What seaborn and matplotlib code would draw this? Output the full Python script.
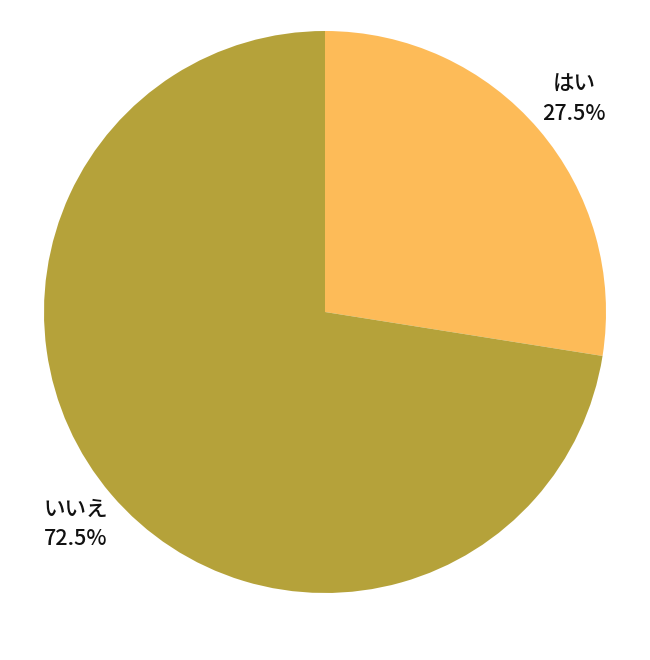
import matplotlib
matplotlib.use("Agg")
import matplotlib.pyplot as plt
import seaborn as sns

categories = ["はい", "いいえ"]
values = [27.5, 72.5]
colors = ["#FDBB58", "#B5A23A"]

sns.set_style("white")
plt.rcParams['font.family'] = ['Noto Sans CJK JP', 'DejaVu Sans']

fig = plt.figure(figsize=(6.5, 6.6), dpi=100)
ax = fig.add_axes([44/650, 67/660, 562/650, 562/660])
palette = sns.color_palette(colors)
labels = [f"{c}\n{v:.1f}%" for c, v in zip(categories, values)]
wedges, texts = ax.pie(values, colors=palette, startangle=90, counterclock=False,
                       labels=labels, labeldistance=1.165,
                       textprops=dict(fontsize=15.5, color="#111111", fontweight="medium"),
                       wedgeprops=dict(linewidth=0))
for t in texts:
    t.set_ha("center")
    t.set_va("center")
    t.set_linespacing(1.38)
    t.set_clip_on(False)
ax.set_xlim(-1, 1)
ax.set_ylim(-1, 1)
ax.set_aspect("equal")
ax.axis("off")
fig.savefig("out.png", dpi=100, facecolor="white")
